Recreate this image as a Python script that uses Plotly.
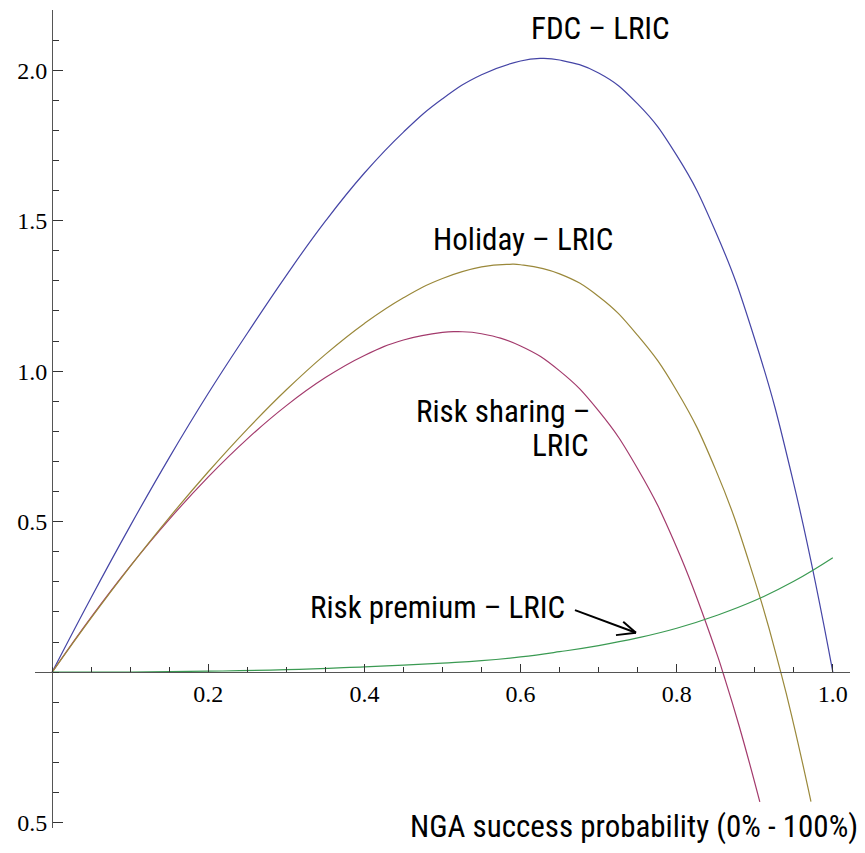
import plotly.graph_objects as go

# ---- data (NGA success probability vs. difference to LRIC) ----
x_fdc = [0.0, 0.05, 0.10, 0.15, 0.20, 0.25, 0.30, 0.35, 0.40, 0.45, 0.50, 0.55, 0.60, 0.625, 0.65,
         0.70, 0.75, 0.80, 0.85, 0.90, 0.95, 1.0]
y_fdc = [0.0, 0.248, 0.486, 0.7127, 0.9264, 1.126, 1.3185, 1.4985, 1.6584, 1.7944, 1.905, 1.985, 2.0304,
         2.039, 2.0339, 1.9908, 1.8881, 1.7168, 1.4624, 1.1061, 0.6256, 0.0]

x_holiday = [0.0, 0.05, 0.10, 0.15, 0.20, 0.25, 0.30, 0.35, 0.40, 0.45, 0.50, 0.55, 0.586, 0.60, 0.65,
             0.70, 0.75, 0.80, 0.85, 0.90, 0.9333, 0.95, 0.972]
y_holiday = [0.0, 0.1805, 0.3517, 0.5136, 0.6657, 0.8075, 0.9381, 1.0558, 1.1586, 1.2438, 1.3078, 1.3462,
             1.355, 1.3536, 1.3234, 1.2482, 1.1188, 0.935, 0.672, 0.305, 0.0, -0.175, -0.43]

x_sharing = [0.0, 0.05, 0.10, 0.15, 0.20, 0.25, 0.30, 0.35, 0.40, 0.45, 0.50, 0.52, 0.55, 0.60, 0.65,
             0.70, 0.75, 0.80, 0.85, 0.86, 0.88, 0.9065]
y_sharing = [0.0, 0.183, 0.3523, 0.5076, 0.6488, 0.7751, 0.8855, 0.9786, 1.0522, 1.1036, 1.1291, 1.1311,
             1.1243, 1.0837, 1.0009, 0.8679, 0.6759, 0.4143, 0.0714, -0.0081, -0.179, -0.4311]

x_premium = [0.0, 0.1, 0.2, 0.3, 0.4, 0.45, 0.5, 0.55, 0.6, 0.65, 0.7, 0.75, 0.8, 0.85, 0.9, 0.95, 1.0]
y_premium = [0.0, 0.0004, 0.003, 0.008, 0.0176, 0.023, 0.030, 0.038, 0.0505, 0.0678, 0.088, 0.1135,
             0.1456, 0.1874, 0.2378, 0.3017, 0.380]

x_tickvals = [0.2, 0.4, 0.6, 0.8, 1.0]
x_ticktext = ["0.2", "0.4", "0.6", "0.8", "1.0"]
y_tickvals = [-0.5, 0.5, 1.0, 1.5, 2.0]
y_ticktext = ["0.5", "0.5", "1.0", "1.5", "2.0"]

series = [
    ("FDC – LRIC", x_fdc, y_fdc, "#4545a6"),
    ("Risk sharing – LRIC", x_sharing, y_sharing, "#a33a6c"),
    ("Holiday – LRIC", x_holiday, y_holiday, "#9a883a"),
    ("Risk premium – LRIC", x_premium, y_premium, "#3a9a52"),
]

LABEL_FONT = dict(family="Liberation Sans Narrow, Arial Narrow, Roboto Condensed, Liberation Sans, sans-serif",
                  size=31, color="black")
TICK_FONT = dict(family="Liberation Serif, Times New Roman, serif", size=24, color="black")

fig = go.Figure()
for name, xs, ys, col in series:
    fig.add_trace(go.Scatter(x=xs, y=ys, mode="lines", name=name,
                             line=dict(color=col, width=1.2, shape="spline", smoothing=1.3),
                             hoverinfo="skip"))

XR = [-0.022, 1.022]
YR = [-0.518, 2.2]
AX = "#555555"

# the page body has an 8px margin, so the figure is made 8px smaller than the window
fig.update_layout(
    width=857, height=845,
    margin=dict(l=27, r=15, t=2, b=25, autoexpand=False),
    paper_bgcolor="white", plot_bgcolor="white",
    showlegend=False,
    xaxis=dict(range=XR, anchor="free", position=(0 - YR[0]) / (YR[1] - YR[0]), automargin=False,
               showline=True, linecolor=AX, linewidth=1.2,
               showgrid=False, zeroline=False,
               tickmode="array", tickvals=x_tickvals, ticktext=x_ticktext,
               ticks="inside", ticklen=8, tickwidth=1, tickcolor="#333",
               tickfont=TICK_FONT,
               minor=dict(dtick=0.05, tick0=0, ticks="inside", ticklen=5, tickwidth=1, tickcolor="#333",
                          showgrid=False)),
    yaxis=dict(range=YR, anchor="free", position=(0 - XR[0]) / (XR[1] - XR[0]), automargin=False,
               showline=True, linecolor=AX, linewidth=1.2,
               showgrid=False, zeroline=False,
               tickmode="array", tickvals=y_tickvals, ticktext=y_ticktext,
               ticks="inside", ticklen=10, tickwidth=1, tickcolor="#333",
               tickfont=TICK_FONT,
               minor=dict(dtick=0.1, tick0=0, ticks="inside", ticklen=6, tickwidth=1, tickcolor="#333",
                          showgrid=False)),
)

labels = [
    ("FDC – LRIC", 0.703, 2.140, "center"),
    ("Holiday – LRIC", 0.603, 1.439, "center"),
    ("Risk sharing –", 0.6914, 0.865, "right"),
    ("LRIC", 0.690, 0.752, "right"),
    ("Risk premium – LRIC", 0.6594, 0.214, "right"),
]
for txt, x, y, anc in labels:
    fig.add_annotation(x=x, y=y, xref="x", yref="y", text=txt, showarrow=False,
                       xanchor=anc, yanchor="middle", font=LABEL_FONT)

fig.add_annotation(x=1.0123, y=0.0024, xref="paper", yref="paper",
                   text="NGA success probability (0% - 100%)", showarrow=False,
                   xanchor="right", yanchor="middle", font=LABEL_FONT)

# open arrow pointing at the risk-premium curve
arrow = dict(tail=(0.6697, 0.206), tip=(0.7478, 0.1306), up=(0.7315, 0.1671), low=(0.7222, 0.1229))
for a, b in [("tail", "tip"), ("up", "tip"), ("low", "tip")]:
    fig.add_shape(type="line", xref="x", yref="y",
                  x0=arrow[a][0], y0=arrow[a][1], x1=arrow[b][0], y1=arrow[b][1],
                  line=dict(color="black", width=2))

fig.write_html("out.html")
